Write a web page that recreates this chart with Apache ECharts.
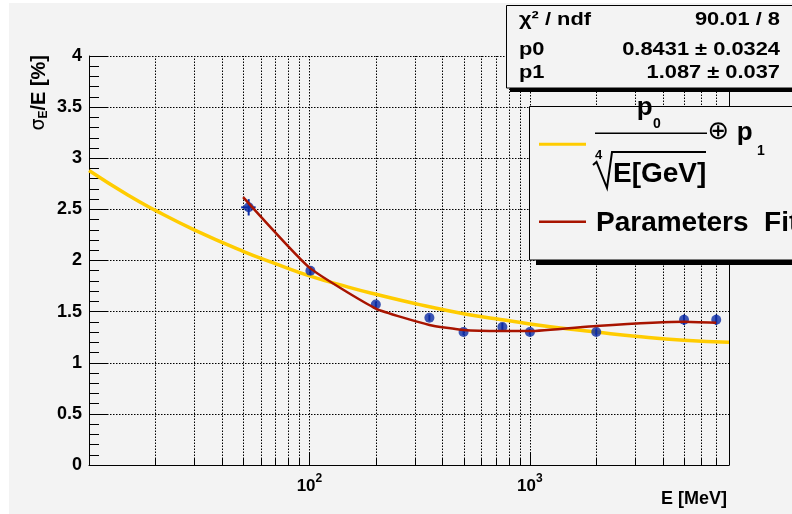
<!DOCTYPE html>
<html><head><meta charset="utf-8">
<script src="https://cdn.jsdelivr.net/npm/echarts@6/dist/echarts.min.js"></script>
<style>html,body{margin:0;padding:0;background:#fff}#c{width:792px;height:514px}</style>
</head><body><div id="c"></div>
<script>
// ---- data ----
const fitE = [10, 15, 20, 30, 50, 70, 100, 150, 200, 300, 500, 700, 1000, 1500, 2000, 3000, 5000, 8000];
const fitSigma = [2.88, 2.64, 2.49, 2.30, 2.09, 1.97, 1.85, 1.74, 1.67, 1.58, 1.48, 1.43, 1.38, 1.33, 1.30, 1.26, 1.22, 1.20];
const dataE = [53, 101, 200, 350, 500, 750, 1000, 2000, 5000, 7000];
const dataSigma = [2.52, 1.90, 1.57, 1.44, 1.30, 1.35, 1.30, 1.30, 1.42, 1.42];
const dataErrY = [0.08, 0.04, 0.03, 0.03, 0.03, 0.04, 0.03, 0.03, 0.05, 0.05];
const dataErrX = [4, 0, 0, 0, 0, 0, 0, 0, 0, 0];
const parE = [50, 100, 200, 350, 500, 750, 1000, 2000, 5000, 7000];
const parSigma = [2.62, 1.93, 1.53, 1.37, 1.32, 1.31, 1.31, 1.36, 1.40, 1.39];
const xMinorTicks = [20, 30, 40, 50, 60, 70, 80, 90, 200, 300, 400, 500, 600, 700, 800, 900, 2000, 3000, 4000, 5000, 6000, 7000];
const statsLabels = ['χ² / ndf', 'p0', 'p1'];
const statsValues = ['90.01 / 8', '0.8431 ± 0.0324', '1.087 ± 0.037'];
const legendNames = ['Parameters Fit'];

const FONT = '"Liberation Sans", Arial, Helvetica, sans-serif';
const BLUE = '#0c2ca4', RED = '#a81400', YELLOW = '#ffcc00', BG = '#f3f3f3';
const GRID_DASH = [1.5, 1.5];

const chart = echarts.init(document.getElementById('c'));

function bold(size) { return 'bold ' + size + 'px ' + FONT; }

const statsRowsY = [20, 50, 72.8];
const graphics = [
  { type: 'rect', shape: { x: 0, y: 0, width: 9, height: 514 }, style: { fill: '#fff' }, z: 100 },
  { type: 'rect', shape: { x: 0, y: 0, width: 792, height: 3 }, style: { fill: '#fff' }, z: 100 },
  // stats box
  { type: 'rect', shape: { x: 510, y: 88, width: 300, height: 4 }, style: { fill: '#000' }, z: 100 },
  { type: 'rect', shape: { x: 506.5, y: 5.5, width: 300, height: 82.5 }, style: { fill: BG, stroke: '#000', lineWidth: 1 }, z: 101 },
  // legend box
  { type: 'rect', shape: { x: 536, y: 260, width: 300, height: 5 }, style: { fill: '#000' }, z: 100 },
  { type: 'rect', shape: { x: 529.5, y: 106.5, width: 300, height: 153.5 }, style: { fill: BG, stroke: '#000', lineWidth: 1 }, z: 101 },
  { type: 'line', shape: { x1: 539, y1: 144.3, x2: 586, y2: 144.3 }, style: { stroke: YELLOW, lineWidth: 3 }, z: 102 },
  { type: 'line', shape: { x1: 539, y1: 221.7, x2: 586, y2: 221.7 }, style: { stroke: RED, lineWidth: 2.5 }, z: 102 },
  { type: 'text', x: 596, y: 223.3, style: { text: legendNames[0].replace(' ', '  '), font: bold(28), fill: '#000', align: 'left', verticalAlign: 'middle' }, z: 102 },
  // formula
  { type: 'text', x: 636.7, y: 107.7, style: { text: 'p', font: bold(26), fill: '#000', align: 'left', verticalAlign: 'middle' }, z: 102 },
  { type: 'text', x: 653, y: 123.8, style: { text: '0', font: bold(14), fill: '#000', align: 'left', verticalAlign: 'middle' }, z: 102 },
  { type: 'line', shape: { x1: 595, y1: 133.3, x2: 707, y2: 133.3 }, style: { stroke: '#000', lineWidth: 1.5 }, z: 102 },
  { type: 'text', x: 718.3, y: 132.3, style: { text: '⊕', font: '26px "DejaVu Sans", sans-serif', fill: '#000', align: 'center', verticalAlign: 'middle' }, z: 102 },
  { type: 'text', x: 736.7, y: 132.7, style: { text: 'p', font: bold(26), fill: '#000', align: 'left', verticalAlign: 'middle' }, z: 102 },
  { type: 'text', x: 757, y: 151.3, style: { text: '1', font: bold(14), fill: '#000', align: 'left', verticalAlign: 'middle' }, z: 102 },
  { type: 'text', x: 595, y: 155, style: { text: '4', font: bold(13), fill: '#000', align: 'left', verticalAlign: 'middle' }, z: 102 },
  { type: 'polyline', shape: { points: [[593, 165], [596.5, 162], [607, 188], [612, 152], [706, 152]] }, style: { stroke: '#000', lineWidth: 2, fill: null }, z: 102 },
  { type: 'text', x: 613, y: 174, style: { text: 'E[GeV]', font: bold(28), fill: '#000', align: 'left', verticalAlign: 'middle' }, z: 102 },
  // axis titles
  { type: 'text', x: 727, y: 499, style: { text: 'E [MeV]', font: bold(18), fill: '#000', align: 'right', verticalAlign: 'middle' }, z: 102 },
  { type: 'text', x: 39, y: 55, rotation: Math.PI / 2,
    style: { text: '{g|σ}{s|E}{n|/E [%]}', align: 'right', verticalAlign: 'middle', fill: '#000',
      rich: {
        g: { font: '19px "DejaVu Sans", sans-serif', fill: '#000', lineHeight: 22, verticalAlign: 'middle' },
        s: { font: bold(12), fill: '#000', lineHeight: 22, verticalAlign: 'bottom', padding: [0, 0, 0, 0] },
        n: { font: bold(20), fill: '#000', lineHeight: 22, verticalAlign: 'middle' }
      } }, z: 102 }
];
statsLabels.forEach((t, i) => {
  graphics.push({ type: 'text', x: 519, y: statsRowsY[i], scaleX: 1.15,
    style: { text: t, font: bold(19), fill: '#000', align: 'left', verticalAlign: 'middle' }, z: 102 });
  graphics.push({ type: 'text', x: 780, y: statsRowsY[i], scaleX: 1.15,
    style: { text: statsValues[i], font: bold(19), fill: '#000', align: 'right', verticalAlign: 'middle' }, z: 102 });
});

const option = {
  backgroundColor: BG,
  animation: false,
  grid: { left: 89, top: 56, width: 640, height: 409, containLabel: false },
  xAxis: {
    type: 'log', logBase: 10, min: 10, max: 8000,
    axisLine: { onZero: false, lineStyle: { color: '#000', width: 1 } },
    axisTick: { inside: true, length: 12, lineStyle: { color: '#000', width: 1 } },
    minorTick: { show: false },
    splitLine: { show: true, lineStyle: { color: '#000', width: 1, type: GRID_DASH } },
    axisLabel: {
      margin: 8,
      formatter: function (v) {
        const e = Math.round(Math.log10(v));
        if (Math.abs(Math.log10(v) - e) > 0.01 || e < 2) return '';
        return '{a|10}{s|' + e + '}';
      },
      rich: {
        a: { fontFamily: FONT, fontWeight: 'bold', fontSize: 17, color: '#000', lineHeight: 22, verticalAlign: 'bottom' },
        s: { fontFamily: FONT, fontWeight: 'bold', fontSize: 12, color: '#000', lineHeight: 22, verticalAlign: 'top' }
      }
    }
  },
  yAxis: [{
    type: 'value', min: 0, max: 4, interval: 0.5,
    axisLine: { show: true, lineStyle: { color: '#000', width: 1 } },
    axisTick: { show: true, inside: true, length: 19, lineStyle: { color: '#000', width: 1 } },
    minorTick: { show: true, splitNumber: 5, length: 10, lineStyle: { color: '#000', width: 1 } },
    splitLine: { show: true, lineStyle: { color: '#000', width: 1, type: GRID_DASH } },
    axisLabel: { margin: 7, fontFamily: FONT, fontWeight: 'bold', fontSize: 18, color: '#000' }
  }, {
    type: 'value', min: 0, max: 4, position: 'right',
    axisLine: { show: true, lineStyle: { color: '#000', width: 1 } },
    axisTick: { show: false }, axisLabel: { show: false }, splitLine: { show: false }
  }],
  series: [
    {
      type: 'custom', name: 'xgrid', z: 1, silent: true,
      data: xMinorTicks.map(v => [v, 0]),
      encode: { x: 0, y: 1 },
      renderItem: function (params, api) {
        const v = api.value(0);
        const b = api.coord([v, 0]);
        const t = api.coord([v, 4]);
        const x = Math.round(b[0]) + 0.5;
        return { type: 'group', children: [
          { type: 'line', shape: { x1: x, y1: b[1], x2: x, y2: t[1] }, style: { stroke: '#000', lineWidth: 1, lineDash: GRID_DASH } },
          { type: 'line', shape: { x1: x, y1: b[1], x2: x, y2: b[1] - 6 }, style: { stroke: '#000', lineWidth: 1 } }
        ] };
      }
    },
    {
      type: 'line', name: 'fit', z: 3,
      data: fitE.map((e, i) => [e, fitSigma[i]]),
      smooth: true, showSymbol: false, symbol: 'none',
      lineStyle: { color: YELLOW, width: 3.5 }
    },
    {
      type: 'custom', name: 'errors', z: 4,
      data: dataE.map((e, i) => [e, dataSigma[i], dataErrX[i], dataErrY[i]]),
      encode: { x: 0, y: 1 },
      renderItem: function (params, api) {
        const E = api.value(0), s = api.value(1), ex = api.value(2), ey = api.value(3);
        const c = api.coord([E, s]);
        const yt = api.coord([E, s + ey]), yb = api.coord([E, s - ey]);
        const ch = [{ type: 'line', shape: { x1: c[0], y1: yt[1], x2: c[0], y2: yb[1] }, style: { stroke: BLUE, lineWidth: 2 } }];
        if (ex > 0) {
          const xl = api.coord([E - ex, s]), xr = api.coord([E + ex, s]);
          ch.push({ type: 'line', shape: { x1: xl[0], y1: c[1], x2: xr[0], y2: c[1] }, style: { stroke: BLUE, lineWidth: 2 } });
        }
        return { type: 'group', children: ch };
      }
    },
    {
      type: 'scatter', name: 'data', z: 5,
      data: dataE.map((e, i) => [e, dataSigma[i]]),
      symbol: 'circle', symbolSize: 10,
      itemStyle: { color: BLUE }
    },
    {
      type: 'line', name: 'Parameters Fit', z: 6,
      data: parE.map((e, i) => [e, parSigma[i]]),
      smooth: 0.15, showSymbol: false, symbol: 'none',
      lineStyle: { color: RED, width: 2.5 }
    }
  ],
  graphic: graphics
};
chart.setOption(option);
</script>
</body></html>
